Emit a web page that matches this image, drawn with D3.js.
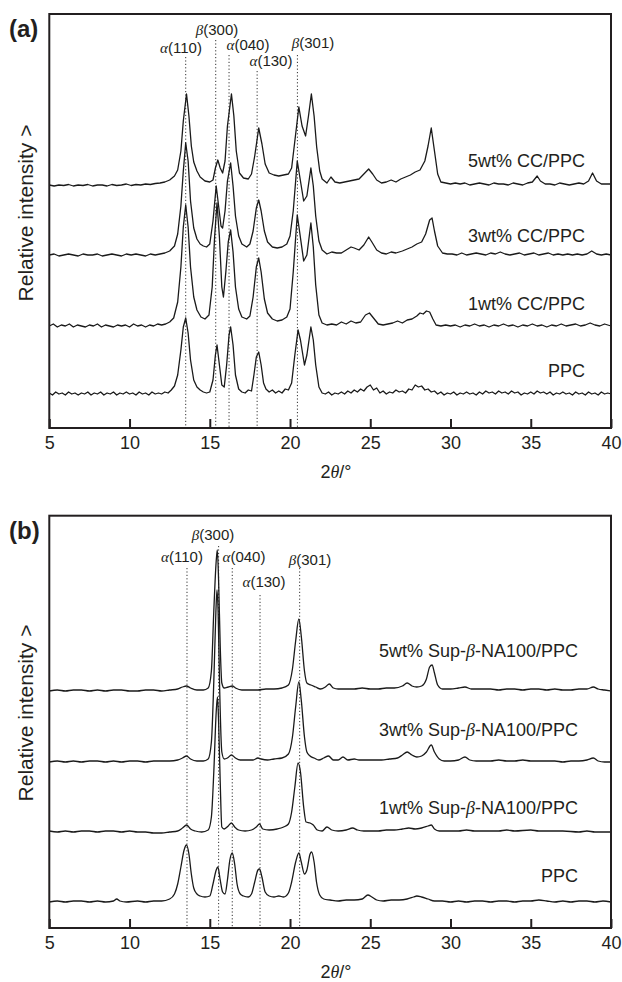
<!DOCTYPE html>
<html>
<head>
<meta charset="utf-8">
<script src="https://cdn.jsdelivr.net/npm/d3@7"></script>
<style>
body { margin: 0; background: #fff; }
svg { display: block; }
text { font-family: 'Liberation Sans', Arial, Helvetica, sans-serif; fill: #231f20; }
.greek { font-family: 'Liberation Serif', 'Times New Roman', serif; font-style: italic; }
</style>
</head>
<body>
<svg id="chart" width="622" height="982"></svg>
<script>
// x ticks shared by both panels
var xTicks = [5, 10, 15, 20, 25, 30, 35, 40];

// panel (a): CC nucleated samples, [2theta, counts above own baseline]
var namesA = ['5wt% CC/PPC', '3wt% CC/PPC', '1wt% CC/PPC', 'PPC'];
var offsetsA = [242, 172, 101, 33];

var a5 = [[5.0,1],[5.3,0],[5.6,1],[5.9,0.5],[6.2,1.5],[6.5,0],[6.8,1],[7.1,0.5],[7.4,1.5],[7.7,0],[8.0,1],[8.3,1],[8.6,0],[8.9,1.5],[9.2,0.5],[9.5,1],[9.8,2],[10.1,0.5],[10.4,1.5],[10.7,1],[11.0,2],[11.3,1.5],[11.6,2.5],[11.9,3],[12.2,4],[12.5,6],[12.8,10],[13.0,16],[13.2,35],[13.35,65],[13.55,92],[13.7,70],[13.85,40],[14.0,24],[14.2,15],[14.4,9],[14.7,5],[15.0,4],[15.2,6],[15.35,18],[15.5,26],[15.65,18],[15.8,13],[15.95,25],[16.1,60],[16.35,92],[16.5,70],[16.65,35],[16.85,13],[17.1,8],[17.4,7],[17.6,12],[17.8,30],[18.05,58],[18.25,42],[18.45,22],[18.7,13],[19.0,11],[19.3,10],[19.6,11],[19.9,12],[20.1,18],[20.3,45],[20.55,79],[20.75,60],[20.97,50],[21.15,70],[21.33,92],[21.5,70],[21.66,39],[21.85,15],[22.0,7],[22.3,3],[22.55,9],[22.8,4],[23.1,3],[23.4,4],[23.7,5],[24.0,6],[24.3,7],[24.6,12],[24.9,17],[25.15,12],[25.4,6],[25.7,3],[26.0,4],[26.3,6],[26.6,4],[26.9,7],[27.2,9],[27.5,11],[27.8,14],[28.1,16],[28.4,25],[28.6,40],[28.8,58],[29.0,35],[29.2,12],[29.4,4],[29.7,3],[30.0,2],[30.3,3],[30.6,2],[30.9,3],[31.2,1],[31.5,2],[31.8,3],[32.1,2],[32.4,1],[32.7,3],[33.0,2],[33.3,2],[33.6,1],[33.9,3],[34.2,2],[34.5,1],[34.8,3],[35.1,4],[35.4,10],[35.6,5],[35.9,2],[36.2,2],[36.5,1],[36.8,3],[37.1,2],[37.4,1],[37.7,2],[38.0,3],[38.3,2],[38.6,5],[38.85,13],[39.1,5],[39.4,2],[39.7,2],[40.0,2]];

var a3 = [[5.0,1],[5.3,2],[5.6,0],[5.9,1],[6.2,2],[6.5,1],[6.8,0],[7.1,2],[7.4,1],[7.7,1],[8.0,2],[8.3,0],[8.6,1],[8.9,2],[9.2,1],[9.5,0],[9.8,2],[10.1,1],[10.4,2],[10.7,1],[11.0,0],[11.3,2],[11.6,1],[11.9,2],[12.2,3],[12.5,5],[12.8,10],[13.0,22],[13.2,50],[13.35,85],[13.5,113],[13.65,95],[13.8,55],[14.0,28],[14.2,17],[14.4,12],[14.6,10],[14.8,9],[15.0,12],[15.2,35],[15.4,70],[15.55,50],[15.7,30],[15.8,28],[15.95,45],[16.1,75],[16.3,93],[16.45,70],[16.6,40],[16.8,20],[17.0,12],[17.3,9],[17.5,12],[17.7,25],[17.9,48],[18.05,56],[18.2,45],[18.4,25],[18.6,14],[18.9,9],[19.2,8],[19.5,9],[19.8,12],[20.0,20],[20.2,45],[20.45,95],[20.6,80],[20.85,55],[21.05,60],[21.3,88],[21.45,70],[21.6,40],[21.8,15],[22.0,6],[22.3,2],[22.6,4],[22.9,3],[23.2,3],[23.5,6],[23.8,9],[24.0,8],[24.3,6],[24.6,11],[24.9,19],[25.1,14],[25.4,6],[25.7,3],[26.0,2],[26.3,4],[26.6,3],[27.0,5],[27.3,7],[27.6,9],[27.9,12],[28.2,14],[28.45,22],[28.7,36],[28.85,38],[29.0,25],[29.2,10],[29.5,3],[29.8,2],[30.1,2],[30.4,1],[30.7,3],[31.0,1],[31.3,2],[31.6,3],[31.9,2],[32.2,1],[32.5,3],[32.8,2],[33.1,4],[33.4,2],[33.7,1],[34.0,2],[34.3,3],[34.6,1],[34.9,2],[35.2,3],[35.5,1],[35.8,2],[36.1,3],[36.4,1],[36.7,2],[37.0,1],[37.3,2],[37.6,1],[37.9,2],[38.2,1],[38.5,2],[38.8,5],[39.1,2],[39.4,1],[39.7,2],[40.0,1]];

var a1 = [[5.0,1],[5.25,3],[5.5,0],[5.75,2],[6.0,1],[6.25,3],[6.5,0],[6.75,2],[7.0,1],[7.25,0],[7.5,2],[7.75,1],[8.0,3],[8.25,0],[8.5,2],[8.75,1],[9.0,0],[9.25,2],[9.5,1],[9.75,2],[10.0,0],[10.25,3],[10.5,1],[10.75,2],[11.0,0],[11.25,2],[11.5,1],[11.75,3],[12.0,2],[12.25,3],[12.5,5],[12.75,9],[13.0,25],[13.2,60],[13.35,100],[13.5,122],[13.65,100],[13.8,60],[14.0,30],[14.2,17],[14.45,10],[14.7,8],[14.95,12],[15.15,40],[15.3,90],[15.45,124],[15.6,90],[15.75,40],[15.85,30],[16.0,55],[16.15,85],[16.3,97],[16.45,75],[16.6,40],[16.8,18],[17.0,10],[17.3,8],[17.5,11],[17.7,30],[17.9,60],[18.05,69],[18.2,55],[18.4,28],[18.6,14],[18.9,8],[19.2,6],[19.5,7],[19.8,10],[20.0,18],[20.2,55],[20.45,112],[20.6,95],[20.85,66],[21.05,72],[21.3,104],[21.45,80],[21.6,42],[21.8,12],[22.0,4],[22.3,2],[22.6,3],[22.9,2],[23.2,5],[23.5,3],[23.8,6],[24.1,4],[24.4,5],[24.7,12],[24.95,14],[25.2,9],[25.5,3],[25.8,2],[26.1,3],[26.4,4],[26.7,6],[27.0,4],[27.3,7],[27.6,8],[27.9,11],[28.1,14],[28.3,13],[28.5,16],[28.7,15],[28.9,8],[29.1,2],[29.4,1],[29.7,2],[30.0,1],[30.3,2],[30.6,0],[30.9,2],[31.2,1],[31.5,3],[31.8,1],[32.1,2],[32.4,0],[32.7,2],[33.0,1],[33.3,3],[33.6,1],[33.9,2],[34.2,0],[34.5,2],[34.8,1],[35.1,3],[35.4,1],[35.7,2],[36.0,0],[36.3,2],[36.6,1],[36.9,3],[37.2,1],[37.5,2],[37.8,3],[38.1,1],[38.4,2],[38.7,4],[39.0,2],[39.3,1],[39.6,3],[40.0,1]];

var aP = [[5.0,2],[5.2,0],[5.4,3],[5.6,1],[5.8,2],[6.0,0],[6.2,3],[6.4,1],[6.6,2],[6.8,0],[7.0,2],[7.2,1],[7.4,3],[7.6,0],[7.8,2],[8.0,1],[8.2,3],[8.4,0],[8.6,2],[8.8,1],[9.0,3],[9.2,0],[9.4,2],[9.6,1],[9.8,3],[10.0,1],[10.2,2],[10.4,0],[10.6,3],[10.8,1],[11.0,2],[11.2,0],[11.4,3],[11.6,1],[11.8,2],[12.0,1],[12.2,3],[12.4,2],[12.6,5],[12.8,9],[13.0,20],[13.2,45],[13.35,68],[13.5,77],[13.65,62],[13.8,35],[14.0,15],[14.2,8],[14.4,5],[14.6,3],[14.8,2],[15.0,3],[15.2,15],[15.35,40],[15.45,50],[15.6,30],[15.75,10],[15.9,8],[16.05,30],[16.2,60],[16.3,68],[16.45,50],[16.6,20],[16.8,6],[17.0,3],[17.2,2],[17.4,5],[17.6,4],[17.75,20],[17.9,38],[18.05,43],[18.2,30],[18.35,12],[18.5,6],[18.7,3],[18.9,5],[19.1,2],[19.3,4],[19.5,2],[19.7,6],[19.9,5],[20.1,12],[20.3,40],[20.5,65],[20.65,55],[20.9,30],[21.05,40],[21.3,68],[21.45,55],[21.6,30],[21.8,8],[22.0,2],[22.2,1],[22.4,3],[22.6,0],[22.8,2],[23.0,1],[23.2,3],[23.4,1],[23.6,4],[23.8,2],[24.0,5],[24.2,3],[24.4,6],[24.6,4],[24.8,8],[25.0,10],[25.2,5],[25.4,7],[25.6,2],[25.8,4],[26.0,1],[26.2,3],[26.4,2],[26.6,5],[26.8,3],[27.0,4],[27.2,2],[27.4,6],[27.6,5],[27.8,10],[28.0,8],[28.2,9],[28.4,5],[28.6,6],[28.8,3],[29.0,4],[29.2,1],[29.4,3],[29.6,0],[29.8,2],[30.0,1],[30.2,3],[30.4,0],[30.6,2],[30.8,1],[31.0,3],[31.2,1],[31.4,2],[31.6,0],[31.8,3],[32.0,1],[32.2,4],[32.4,2],[32.6,3],[32.8,1],[33.0,4],[33.2,2],[33.4,3],[33.6,1],[33.8,4],[34.0,2],[34.2,3],[34.4,0],[34.6,2],[34.8,1],[35.0,3],[35.2,1],[35.4,4],[35.6,2],[35.8,3],[36.0,1],[36.2,3],[36.4,0],[36.6,2],[36.8,1],[37.0,3],[37.2,1],[37.4,2],[37.6,0],[37.8,3],[38.0,1],[38.2,2],[38.4,0],[38.6,3],[38.8,1],[39.0,2],[39.2,0],[39.4,3],[39.6,1],[39.8,2],[40.0,1]];

// panel (b): Sup-beta-NA100 nucleated samples
var namesB = ['5wt% Sup-\u03B2-NA100/PPC', '3wt% Sup-\u03B2-NA100/PPC', '1wt% Sup-\u03B2-NA100/PPC', 'PPC'];
var offsetsB = [237, 166, 96, 26];

var b5 = [[5.0,0],[5.5,1],[6.0,0],[6.5,1],[7.0,1],[7.5,0],[8.0,1],[8.5,0],[9.0,1],[9.5,1],[10.0,0],[10.5,0],[11.0,1],[11.5,1],[12.0,0],[12.5,1],[13.0,2],[13.3,4],[13.55,5],[13.8,3],[14.2,1],[14.6,1],[14.9,3],[15.1,20],[15.25,80],[15.4,130],[15.47,141],[15.55,110],[15.65,45],[15.75,8],[15.9,3],[16.15,4],[16.4,5],[16.6,3],[17.0,1],[17.5,1],[18.0,1],[18.5,2],[19.0,2],[19.5,3],[19.9,6],[20.15,22],[20.35,50],[20.55,72],[20.7,55],[20.9,20],[21.05,8],[21.3,6],[21.6,4],[21.9,2],[22.2,4],[22.45,7],[22.7,3],[23.0,2],[23.5,2],[24.0,2],[24.5,3],[25.0,2],[25.5,2],[26.0,3],[26.5,3],[27.0,5],[27.3,8],[27.6,5],[27.9,4],[28.2,5],[28.5,12],[28.7,24],[28.85,26],[29.0,18],[29.2,6],[29.5,2],[30.0,2],[30.5,3],[30.9,4],[31.3,2],[31.8,2],[32.5,2],[33.0,1],[33.5,2],[34.0,2],[34.5,1],[35.0,2],[35.5,2],[36.0,1],[36.5,2],[37.0,1],[37.5,1],[38.0,2],[38.5,2],[38.9,4],[39.2,2],[39.6,1],[40.0,0]];

var b3 = [[5.0,0],[5.5,1],[6.0,0],[6.5,1],[7.0,0],[7.5,1],[8.0,1],[8.5,0],[9.0,1],[9.5,0],[10.0,1],[10.5,1],[11.0,0],[11.5,1],[12.0,1],[12.5,1],[13.0,2],[13.3,4],[13.55,6],[13.8,3],[14.2,1],[14.6,1],[14.9,3],[15.1,20],[15.25,80],[15.38,150],[15.45,172],[15.52,150],[15.62,70],[15.75,10],[15.9,3],[16.1,4],[16.35,7],[16.6,4],[16.9,2],[17.3,2],[17.7,2],[18.0,4],[18.2,3],[18.6,2],[19.0,3],[19.5,4],[19.9,8],[20.15,25],[20.35,55],[20.55,80],[20.7,62],[20.9,25],[21.05,10],[21.25,6],[21.5,4],[21.8,2],[22.1,4],[22.4,6],[22.7,2],[23.0,2],[23.3,5],[23.6,2],[24.0,3],[24.3,2],[24.7,2],[25.2,2],[25.7,2],[26.2,3],[26.7,4],[27.0,7],[27.3,10],[27.6,7],[27.9,5],[28.2,6],[28.5,10],[28.8,17],[29.0,10],[29.3,3],[29.6,1],[30.0,1],[30.5,2],[30.9,5],[31.2,2],[31.6,1],[32.0,1],[32.5,1],[33.0,2],[33.5,1],[34.0,1],[34.5,2],[35.0,1],[35.5,1],[36.0,1],[36.5,1],[37.0,0],[37.5,1],[38.0,1],[38.5,2],[38.9,4],[39.2,1],[39.6,0],[40.0,0]];

var b1 = [[5.0,1],[5.5,0],[6.0,1],[6.5,0],[7.0,1],[7.5,1],[8.0,0],[8.5,1],[9.0,1],[9.5,0],[10.0,1],[10.5,0],[11.0,0],[11.5,-1],[12.0,-1],[12.5,0],[13.0,1],[13.3,4],[13.55,7],[13.8,3],[14.1,1],[14.5,0],[14.9,2],[15.1,15],[15.25,60],[15.4,120],[15.48,135],[15.55,110],[15.65,50],[15.75,5],[15.9,3],[16.15,6],[16.35,9],[16.55,5],[16.8,2],[17.2,1],[17.6,2],[17.9,5],[18.1,8],[18.3,3],[18.7,2],[19.2,3],[19.6,5],[19.9,8],[20.1,20],[20.3,45],[20.5,69],[20.65,60],[20.85,25],[21.0,10],[21.25,9],[21.45,7],[21.7,2],[22.0,1],[22.3,5],[22.6,2],[23.0,1],[23.5,2],[23.9,4],[24.2,2],[24.6,1],[25.0,1],[25.5,1],[26.0,2],[26.5,2],[27.0,3],[27.4,4],[27.8,3],[28.2,4],[28.6,6],[28.8,7],[29.0,3],[29.3,1],[30.0,1],[30.5,1],[31.0,2],[31.5,1],[32.0,1],[33.0,1],[33.5,2],[34.0,1],[35.0,2],[35.5,1],[36.0,1],[37.0,1],[38.0,0],[38.5,1],[39.0,0],[40.0,0]];

var bP = [[5.0,0],[5.5,1],[6.0,0],[6.5,1],[7.0,1],[7.5,0],[8.0,1],[8.5,0],[9.0,1],[9.2,3],[9.4,1],[9.8,0],[10.5,1],[11.0,0],[11.5,1],[12.0,1],[12.5,3],[12.8,8],[13.0,18],[13.2,35],[13.4,52],[13.55,57],[13.7,48],[13.85,28],[14.0,14],[14.2,8],[14.4,6],[14.7,5],[15.0,6],[15.2,18],[15.4,32],[15.5,35],[15.65,22],[15.8,10],[15.95,8],[16.1,22],[16.25,42],[16.4,49],[16.55,38],[16.7,18],[16.9,8],[17.1,6],[17.4,5],[17.6,8],[17.8,20],[18.0,32],[18.1,33],[18.25,25],[18.45,10],[18.7,6],[19.0,5],[19.3,6],[19.6,5],[19.9,9],[20.1,20],[20.35,40],[20.55,49],[20.7,40],[20.9,28],[21.05,32],[21.25,48],[21.35,50],[21.5,40],[21.65,20],[21.85,7],[22.1,3],[22.5,2],[23.0,1],[23.5,2],[24.0,2],[24.5,3],[24.85,7],[25.1,5],[25.4,2],[25.8,1],[26.3,2],[26.8,2],[27.3,3],[27.7,5],[27.9,6],[28.2,5],[28.6,3],[29.0,1],[29.5,1],[30.0,0],[30.5,1],[31.0,0],[31.5,1],[32.0,1],[32.5,0],[33.0,1],[33.5,1],[34.0,0],[34.5,1],[35.0,1],[35.5,2],[36.0,1],[36.5,0],[37.0,1],[37.5,0],[38.0,1],[38.5,1],[39.0,0],[39.5,1],[40.0,0]];

// reflection markers: greek letter, (hkl), 2theta
var peaksA = [['\u03B1', '(110)', 13.5], ['\u03B2', '(300)', 15.37], ['\u03B1', '(040)', 16.2], ['\u03B1', '(130)', 17.95], ['\u03B2', '(301)', 20.46]];
var peaksB = [['\u03B1', '(110)', 13.58], ['\u03B2', '(300)', 15.55], ['\u03B1', '(040)', 16.4], ['\u03B1', '(130)', 18.13], ['\u03B2', '(301)', 20.6]];

var svg = d3.select('#chart');
var left = 49.3, right = 611;
var x = d3.scaleLinear().domain([5, 40]).range([left, right]);

function drawPanel(p) {
    var y = d3.scaleLinear().domain([0, p.bottom - p.top]).range([p.bottom, p.top]);
    var g = svg.append('g');

    // dotted reflection guides
    p.peaks.forEach(function (d, i) {
        g.append('line')
            .attr('x1', x(d[2])).attr('x2', x(d[2]))
            .attr('y1', p.guideTop[i]).attr('y2', p.bottom)
            .attr('stroke', '#333').attr('stroke-width', 1)
            .attr('stroke-dasharray', '1.2,2.2');
        var t = g.append('text')
            .attr('x', p.peakLabel[i][0]).attr('y', p.peakLabel[i][1])
            .attr('text-anchor', 'middle')
            .style('font-size', '15px');
        t.append('tspan').attr('class', 'greek').text(d[0]);
        t.append('tspan').text(d[1]);
    });

    // (a) traces are noisy -> straight segments, (b) traces are smoother
    var line = d3.line()
        .x(function (d) { return x(d[0]); })
        .y(function (d) { return d[1]; })
        .curve(p.smooth ? d3.curveMonotoneX : d3.curveLinear);

    p.series.forEach(function (s, i) {
        var off = p.offsets[i];
        g.append('path')
            .attr('d', line(s.map(function (d) { return [d[0], y(d[1] + off)]; })))
            .attr('fill', 'none').attr('stroke', '#1a1a1a').attr('stroke-width', 1.3)
            .attr('stroke-linejoin', 'round');
        var lbl = g.append('text')
            .attr('x', p.labelX).attr('y', p.labelY[i])
            .attr('text-anchor', 'end')
            .style('font-size', '18px');
        var parts = p.names[i].split('\u03B2');
        lbl.append('tspan').text(parts[0]);
        if (parts.length > 1) {
            lbl.append('tspan').attr('class', 'greek').text('\u03B2');
            lbl.append('tspan').text(parts[1]);
        }
    });

    // frame
    g.append('rect')
        .attr('x', left).attr('y', p.top)
        .attr('width', right - left).attr('height', p.bottom - p.top)
        .attr('fill', 'none').attr('stroke', '#231f20').attr('stroke-width', 2);

    var axis = g.append('g')
        .attr('transform', 'translate(0,' + p.bottom + ')')
        .call(d3.axisBottom(x).tickValues(xTicks).tickSize(-9).tickSizeOuter(0).tickPadding(8));
    axis.select('.domain').remove();
    axis.selectAll('.tick line').attr('stroke', '#231f20').attr('stroke-width', 2);
    axis.selectAll('.tick text')
        .style('font-size', '18px').style('font-family', "'Liberation Sans', Arial, sans-serif")
        .attr('fill', '#231f20');

    var xt = g.append('text')
        .attr('x', 336).attr('y', p.bottom + 50)
        .attr('text-anchor', 'middle').style('font-size', '18px');
    xt.append('tspan').text('2');
    xt.append('tspan').attr('class', 'greek').text('\u03B8');
    xt.append('tspan').text('/\u00B0');

    g.append('text')
        .attr('transform', 'translate(33,' + p.yTitle + ') rotate(-90)')
        .attr('text-anchor', 'middle').style('font-size', '21px')
        .text('Relative intensity >');

    g.append('text')
        .attr('x', 9).attr('y', p.top + 23)
        .style('font-size', '24px').style('font-weight', 'bold')
        .text(p.letter);
}

drawPanel({
    letter: '(a)', top: 14, bottom: 428, yTitle: 213, smooth: false,
    series: [a5, a3, a1, aP], offsets: offsetsA, names: namesA,
    labelX: 585, labelY: [167, 242, 310, 377],
    peaks: peaksA,
    guideTop: [57, 40, 55, 71, 55],
    peakLabel: [[181, 53], [217, 35], [248, 50], [271, 66], [313, 48]]
});

drawPanel({
    letter: '(b)', top: 515.7, bottom: 928, yTitle: 713, smooth: true,
    series: [b5, b3, b1, bP], offsets: offsetsB, names: namesB,
    labelX: 578, labelY: [657, 736, 814, 882],
    peaks: peaksB,
    guideTop: [568, 546, 568, 595, 568],
    peakLabel: [[182, 562], [213, 540], [244, 562], [264, 587], [310, 565]]
});
</script>
</body>
</html>
